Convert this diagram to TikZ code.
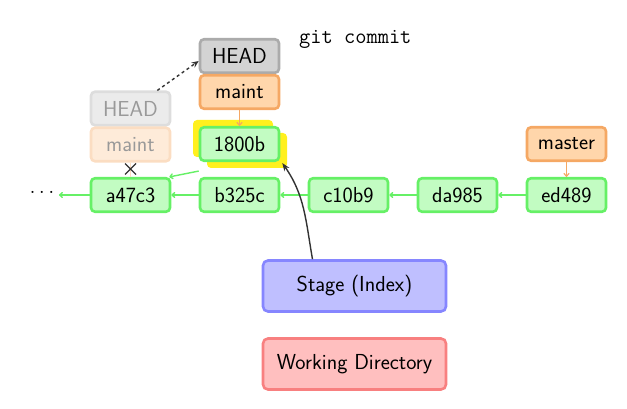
\documentclass[tikz,border=0pt]{standalone}
\usepackage{fontspec}
\usetikzlibrary{arrows.meta}
\definecolor{cfill}{HTML}{C2FCC2}
\definecolor{cdraw}{HTML}{66F066}
\definecolor{ofill}{HTML}{FFD6AB}
\definecolor{odraw}{HTML}{F5A864}
\definecolor{hfill}{HTML}{D3D3D3}
\definecolor{hdraw}{HTML}{ABABAB}
\definecolor{fhfill}{HTML}{EBEBEB}
\definecolor{fhdraw}{HTML}{DDDDDD}
\definecolor{fofill}{HTML}{FEEBD9}
\definecolor{fodraw}{HTML}{FBDDC2}
\definecolor{sfill}{HTML}{BFBFFF}
\definecolor{sdraw}{HTML}{8686FF}
\definecolor{wfill}{HTML}{FFBFBF}
\definecolor{wdraw}{HTML}{F88080}
\definecolor{hilite}{HTML}{FFF01E}
\definecolor{darkline}{HTML}{333333}
\tikzset{
  box/.style={rounded corners=4pt, line width=2.6pt, minimum width=79pt, minimum height=33.5pt, inner sep=0pt, font=\sffamily\fontsize{21.7}{24}\selectfont},
  commit/.style={box, fill=cfill, draw=cdraw},
  branch/.style={box, fill=ofill, draw=odraw},
  headbox/.style={box, fill=hfill, draw=hdraw},
  fadehead/.style={box, fill=fhfill, draw=fhdraw, text=black!40},
  fadebranch/.style={box, fill=fofill, draw=fodraw, text=black!40},
  area/.style={rounded corners=5pt, line width=2.6pt, minimum width=183pt, minimum height=51pt, inner sep=0pt, font=\sffamily\fontsize{21.7}{24}\selectfont},
  parent/.style={draw=cdraw, line width=1.4pt, -{To[length=4pt,width=6pt]}},
  bref/.style={draw=odraw, line width=1.2pt, -{To[length=4pt,width=6pt]}},
}
\begin{document}
\begin{tikzpicture}[x=1pt,y=-1pt]
\useasboundingbox (0,0) rectangle (627,409);
% highlight behind 1800b
\fill[hilite, rounded corners=4pt] (193,120) rectangle (273,157);
\fill[hilite, rounded corners=4pt] (207,133) rectangle (287,168);
% nodes
\node[headbox] (head) at (239.5,56) {HEAD};
\node[branch] (maint) at (239.5,92) {maint};
\node[fadehead] (oldhead) at (130.5,108.5) {HEAD};
\node[fadebranch] (oldmaint) at (130.5,144.5) {maint};
\node[commit] (c1800b) at (239.5,144) {1800b};
\node[branch] (master) at (566.5,144) {master};
\node[commit] (a47c3) at (130.5,195) {a47c3};
\node[commit] (b325c) at (239.5,195) {b325c};
\node[commit] (c10b9) at (348.5,195) {c10b9};
\node[commit] (da985) at (457.5,195) {da985};
\node[commit] (ed489) at (566.5,195) {ed489};
\node[font=\fontsize{26}{28}\selectfont, inner sep=1pt] (dots) at (42,192) {.\hspace{3pt}.\hspace{3pt}.};
\node[area, fill=sfill, draw=sdraw] (stage) at (354.5,286) {Stage (Index)};
\node[area, fill=wfill, draw=wdraw] (wd) at (354.5,364) {Working Directory};
\node[font=\ttfamily\fontsize{21.8}{24}\selectfont, anchor=west, inner sep=0pt] (cmd) at (299,39) {git commit};
% parent links
\draw[parent] (b325c) -- (a47c3);
\draw[parent] (c10b9) -- (b325c);
\draw[parent] (da985) -- (c10b9);
\draw[parent] (ed489) -- (da985);
\draw[parent] (a47c3.west) -- ([xshift=3pt]dots.east |- a47c3.west);
\draw[parent] ([yshift=-9pt]c1800b.south west) -- ([xshift=-2pt]a47c3.north east);
% branch refs
\draw[bref] (maint) -- (c1800b);
\draw[bref] (master) -- (ed489);
% old ref (crossed out)
\draw[draw=fodraw, line width=1.2pt] (oldmaint.south) -- (a47c3.north);
\coordinate (crossc) at (130.5,169);
\draw[darkline, line width=1.3pt] ([shift={(-5.5,-5.5)}]crossc) -- ([shift={(5.5,5.5)}]crossc)
  ([shift={(-5.5,5.5)}]crossc) -- ([shift={(5.5,-5.5)}]crossc);
% head move
\draw[darkline, line width=1.4pt, dashed, dash pattern=on 3pt off 3pt, -{Stealth[length=7pt,width=6pt]}] ([xshift=-14pt]oldhead.north east) -- ([yshift=-5pt]head.west);
% commit from stage
\draw[darkline, line width=1.4pt, -{Stealth[length=8pt,width=6pt]}] ([xshift=-42pt]stage.north) to[out=100, in=-55] ([xshift=2pt,yshift=-1pt]c1800b.south east);
\end{tikzpicture}
\end{document}
